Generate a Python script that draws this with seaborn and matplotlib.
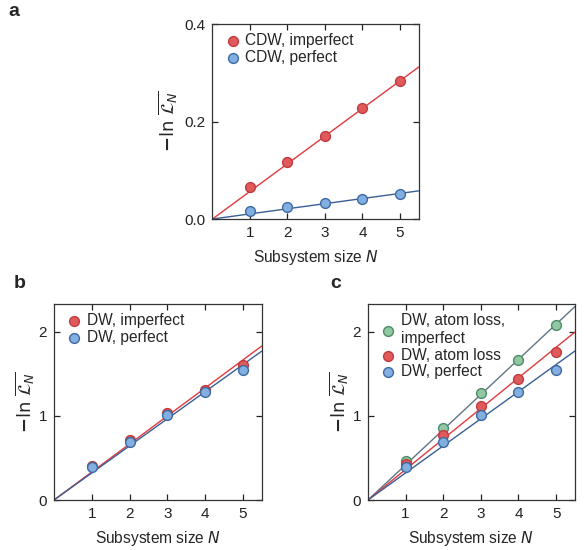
import matplotlib
matplotlib.use("Agg")
import matplotlib.pyplot as plt
import seaborn as sns
import numpy as np
import pandas as pd

sns.set_theme(style="ticks")
plt.rcParams['font.family'] = ['Liberation Sans', 'DejaVu Sans']
plt.rcParams['mathtext.fontset'] = 'dejavusans'

N = [1, 2, 3, 4, 5]

# Panel a
a_cdw_imperfect = [0.065, 0.117, 0.171, 0.227, 0.283]
a_cdw_perfect = [0.016, 0.025, 0.033, 0.042, 0.051]
a_slopes = [0.0567, 0.0105]

# Panel b
b_dw_imperfect = [0.40, 0.71, 1.03, 1.31, 1.61]
b_dw_perfect = [0.39, 0.69, 1.01, 1.28, 1.55]
b_slopes = [0.333, 0.322]

# Panel c
c_dw_loss_imperfect = [0.46, 0.85, 1.27, 1.66, 2.08]
c_dw_loss = [0.43, 0.77, 1.12, 1.44, 1.76]
c_dw_perfect = [0.39, 0.69, 1.01, 1.28, 1.55]
c_slopes = [0.418, 0.363, 0.322]

RED = dict(face="#e05a5c", edge="#c23a3d", line="#e03a3d")
BLUE = dict(face="#82aee0", edge="#3d6aa3", line="#3a5f94")
GREEN = dict(face="#8fc8a2", edge="#4f8a68", line="#5f7585")

fig = plt.figure(figsize=(5.85, 5.5), dpi=100)
ax_a = fig.add_axes([0.3632, 0.6018, 0.3526, 0.3545])
ax_b = fig.add_axes([0.0923, 0.0909, 0.3554, 0.3564])
ax_c = fig.add_axes([0.629, 0.0909, 0.3538, 0.3564])

ylabel = r'$\mathbf{-}\mathrm{ln}\ \overline{\mathcal{L}_N}$'


def draw(ax, series, slopes, styles, labels, ylim, yticks, yticklabels, ylabelpad):
    xfit = np.array([0.0, 5.5])
    for k, sl in zip(styles, slopes):
        sns.lineplot(x=xfit, y=sl * xfit, ax=ax, color=k["line"], lw=1.0, zorder=2)
    for vals, k, lab in zip(series, styles, labels):
        df = pd.DataFrame({"N": N, "v": vals})
        sns.scatterplot(data=df, x="N", y="v", ax=ax, s=50, color=k["face"],
                        edgecolor=k["edge"], linewidth=1.0, zorder=3, label=lab)
    ax.set_xlim(0, 5.5)
    ax.set_ylim(*ylim)
    ax.set_xticks(N)
    ax.set_yticks(yticks)
    ax.set_yticklabels(yticklabels)
    ax.tick_params(direction="in", top=True, right=True, labelsize=11,
                   length=4, width=0.9, colors="#222222", labelcolor="#222222", pad=5)
    for s in ax.spines.values():
        s.set_linewidth(0.9)
        s.set_color("#333333")
    ax.set_xlabel("Subsystem size $\\mathit{N}$", fontsize=11.2, labelpad=6)
    ax.set_ylabel(ylabel, fontsize=13, labelpad=ylabelpad)
    leg = ax.legend(loc="upper left", frameon=False, fontsize=11.2, handletextpad=0.1,
                    borderaxespad=0.3, labelspacing=0.12, markerscale=1.0,
                    borderpad=0.3, handlelength=1.4)
    return leg


draw(ax_a, [a_cdw_imperfect, a_cdw_perfect], a_slopes, [RED, BLUE],
     ["CDW, imperfect", "CDW, perfect"], (0, 0.4), [0, 0.2, 0.4], ["0.0", "0.2", "0.4"], 4)
draw(ax_b, [b_dw_imperfect, b_dw_perfect], b_slopes, [RED, BLUE],
     ["DW, imperfect", "DW, perfect"], (0, 2.33), [0, 1, 2], ["0", "1", "2"], 2)
draw(ax_c, [c_dw_loss_imperfect, c_dw_loss, c_dw_perfect], c_slopes, [GREEN, RED, BLUE],
     ["DW, atom loss,\nimperfect", "DW, atom loss", "DW, perfect"], (0, 2.33),
     [0, 1, 2], ["0", "1", "2"], 2)

fig.text(8 / 585, 1 - 12 / 550, "a", fontsize=14, fontweight="bold", va="center", ha="left")
fig.text(14 / 585, 1 - 283 / 550, "b", fontsize=14, fontweight="bold", va="center", ha="left")
fig.text(330 / 585, 1 - 283 / 550, "c", fontsize=14, fontweight="bold", va="center", ha="left")

fig.savefig("out.png", dpi=100)
